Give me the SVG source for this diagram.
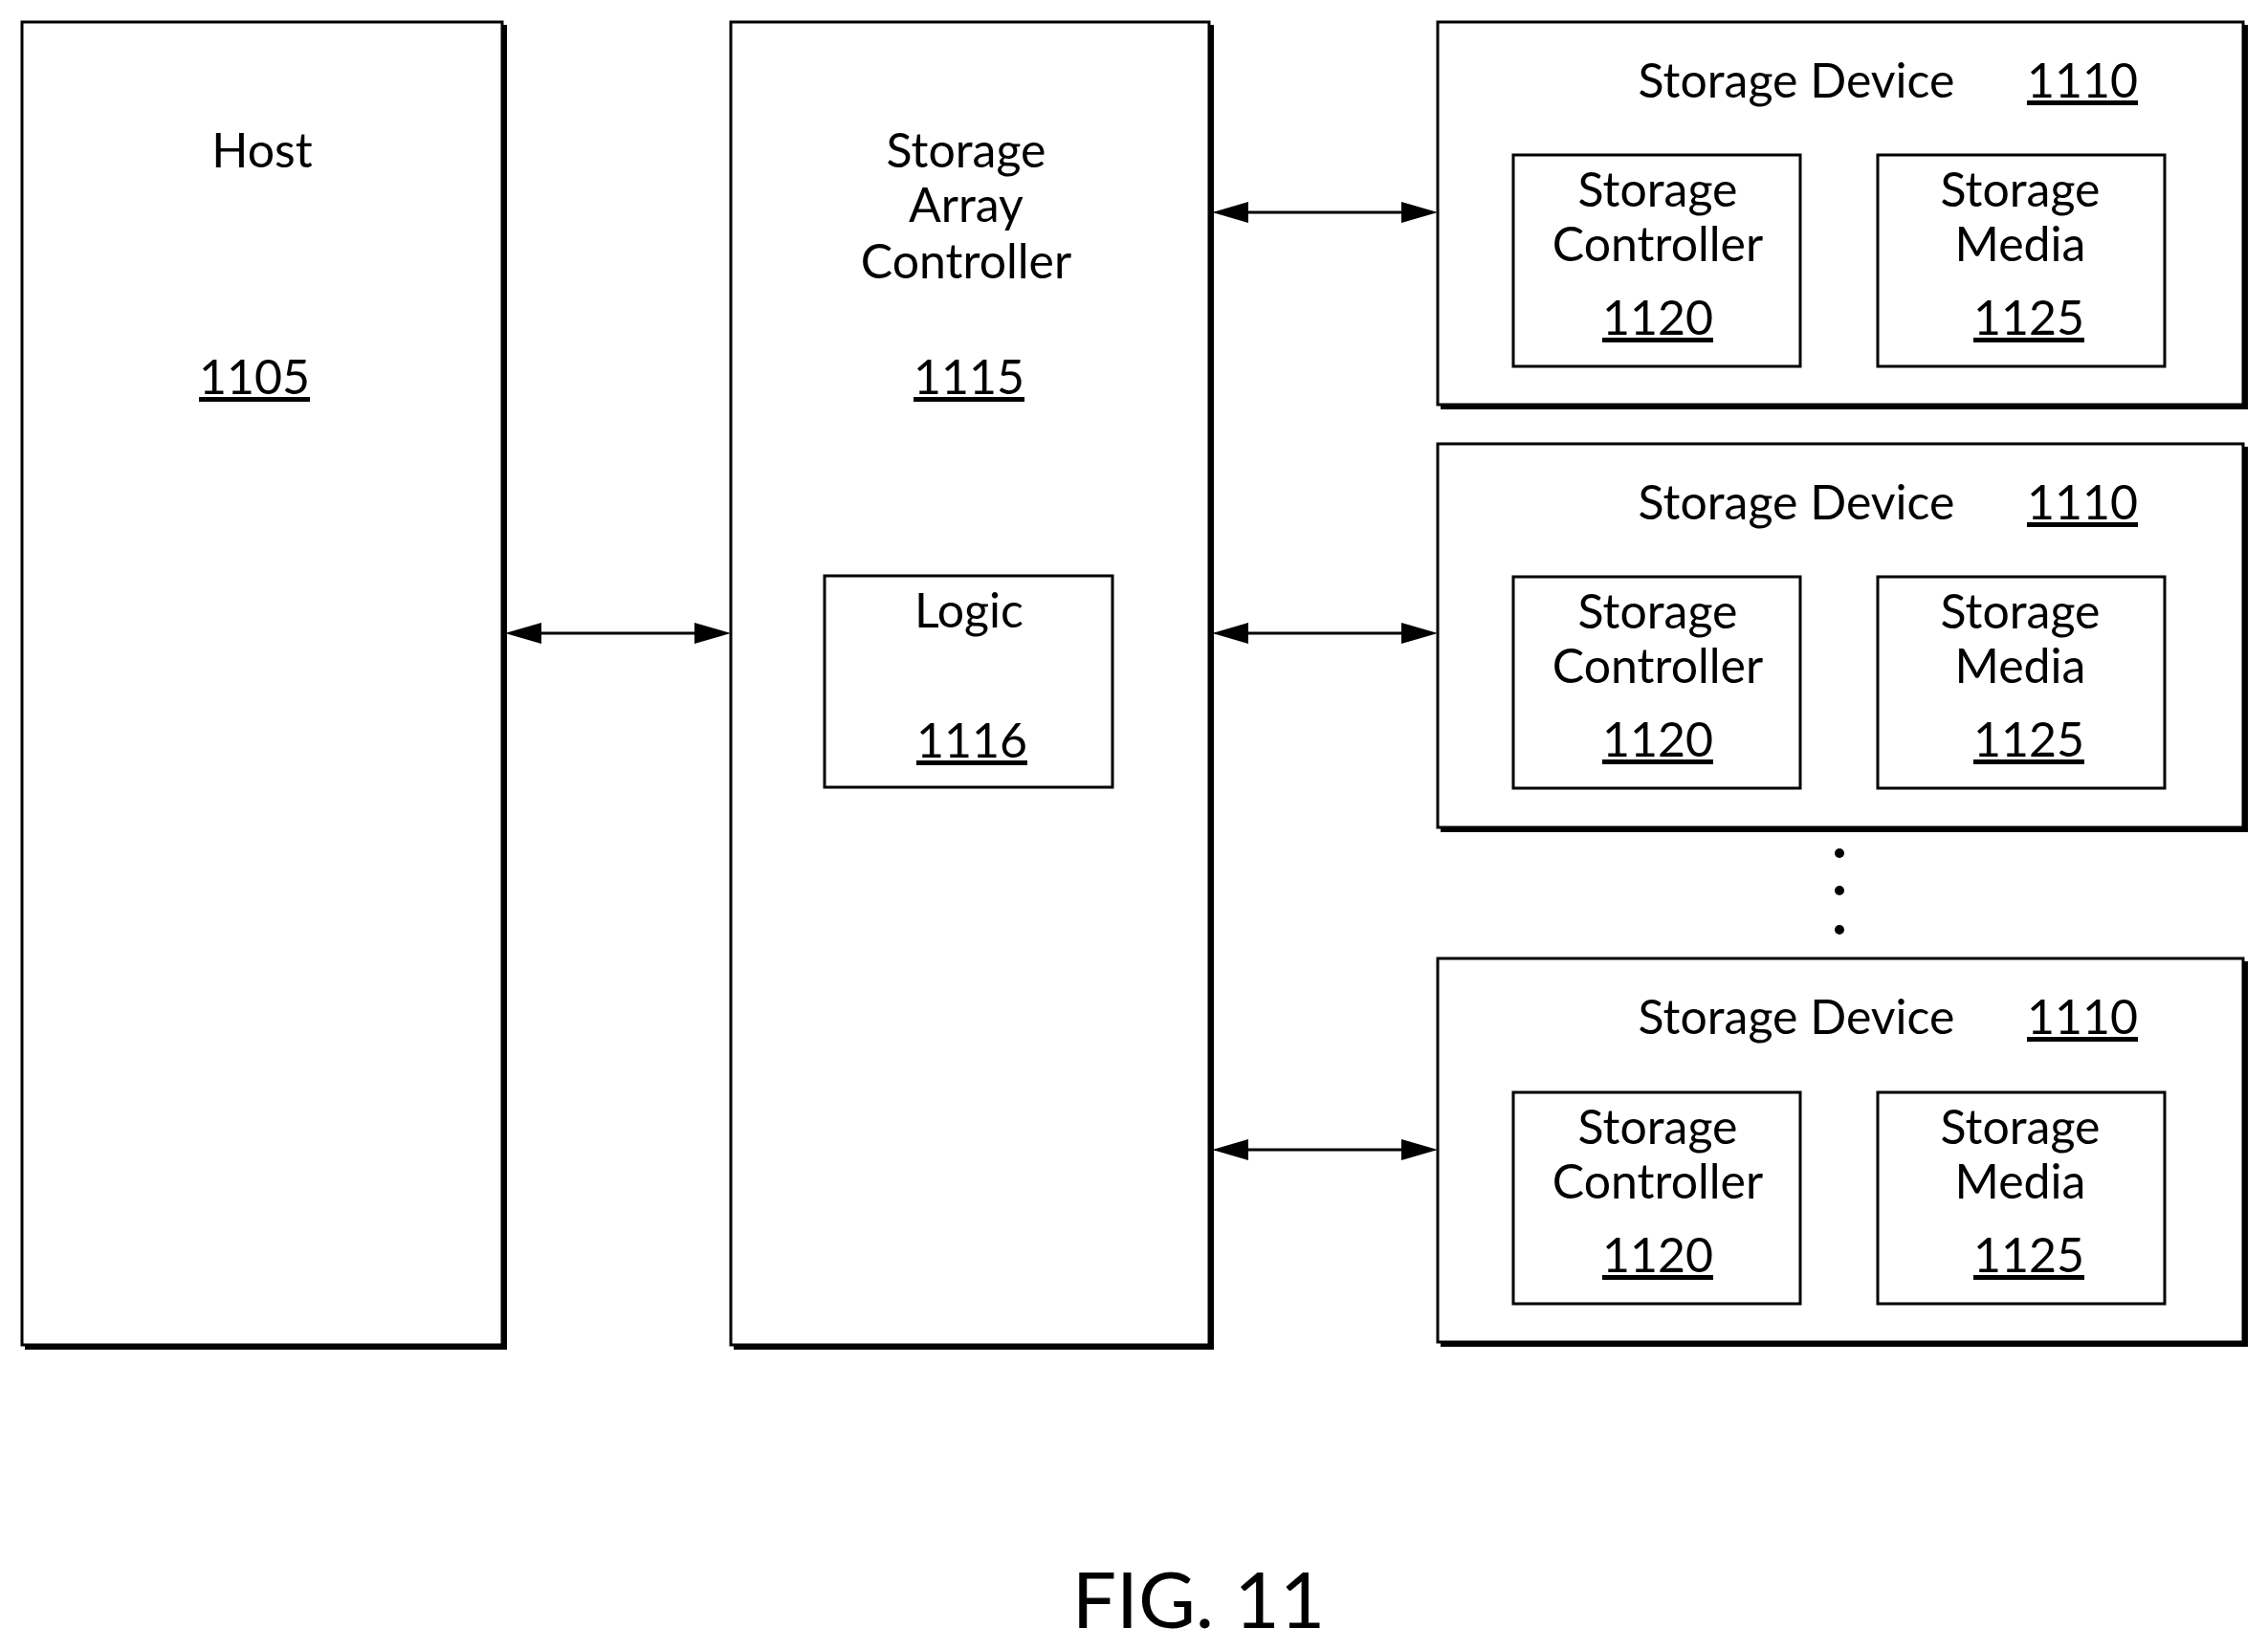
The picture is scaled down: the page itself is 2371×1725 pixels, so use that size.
<svg xmlns="http://www.w3.org/2000/svg" width="2371" height="1725" viewBox="0 0 2371 1725">
<style>
text{font-family:Lato,"Open Sans","Liberation Sans",sans-serif;font-size:50px;fill:#000;text-anchor:middle}
.u{text-decoration:underline}
.box{fill:#fff;stroke:#000;stroke-width:3}
.sh{fill:none;stroke:#000;stroke-width:4}
.in{fill:#fff;stroke:#000;stroke-width:3}
.c{stroke:#000;stroke-width:3;fill:none}
.a{fill:#000}
</style>
<rect width="2371" height="1725" fill="#fff"/>
<g id="host">
<polyline class="sh" points="528,26 528,1409 26,1409"/>
<rect class="box" x="23" y="23" width="502" height="1383"/>
<text x="274" y="175">Host</text>
<text class="u" x="266" y="412">1105</text>
</g>
<g id="sac">
<polyline class="sh" points="1267,26 1267,1409 767,1409"/>
<rect class="box" x="764" y="23" width="500" height="1383"/>
<text x="1010" y="175">Storage</text>
<text x="1010" y="232">Array</text>
<text x="1010" y="291">Controller</text>
<text class="u" x="1013" y="412">1115</text>
</g>
<g id="logic">
<rect class="in" x="862" y="602" width="301" height="221"/>
<text x="1013" y="656">Logic</text>
<text class="u" x="1016" y="792">1116</text>
</g>
<g id="dev1">
<polyline class="sh" points="2348,26 2348,426 1506,426"/>
<rect class="box" x="1503" y="23" width="842" height="400"/>
<text x="1878" y="102">Storage Device</text>
<text class="u" x="2177" y="102">1110</text>
<rect class="in" x="1582" y="162" width="300" height="221"/>
<text x="1733" y="216">Storage</text>
<text x="1733" y="273">Controller</text>
<text class="u" x="1733" y="350">1120</text>
<rect class="in" x="1963" y="162" width="300" height="221"/>
<text x="2112" y="216">Storage</text>
<text x="2112" y="273">Media</text>
<text class="u" x="2121" y="350">1125</text>
</g>
<g id="dev2">
<polyline class="sh" points="2348,467 2348,868 1506,868"/>
<rect class="box" x="1503" y="464" width="842" height="401"/>
<text x="1878" y="543">Storage Device</text>
<text class="u" x="2177" y="543">1110</text>
<rect class="in" x="1582" y="603" width="300" height="221"/>
<text x="1733" y="657">Storage</text>
<text x="1733" y="714">Controller</text>
<text class="u" x="1733" y="791">1120</text>
<rect class="in" x="1963" y="603" width="300" height="221"/>
<text x="2112" y="657">Storage</text>
<text x="2112" y="714">Media</text>
<text class="u" x="2121" y="791">1125</text>
</g>
<g id="dev3">
<polyline class="sh" points="2348,1005 2348,1406 1506,1406"/>
<rect class="box" x="1503" y="1002" width="842" height="401"/>
<text x="1878" y="1081">Storage Device</text>
<text class="u" x="2177" y="1081">1110</text>
<rect class="in" x="1582" y="1142" width="300" height="221"/>
<text x="1733" y="1196">Storage</text>
<text x="1733" y="1253">Controller</text>
<text class="u" x="1733" y="1330">1120</text>
<rect class="in" x="1963" y="1142" width="300" height="221"/>
<text x="2112" y="1196">Storage</text>
<text x="2112" y="1253">Media</text>
<text class="u" x="2121" y="1330">1125</text>
</g>
<g id="dots" fill="#000">
<circle cx="1923" cy="892" r="5"/>
<circle cx="1923" cy="931" r="5"/>
<circle cx="1923" cy="972" r="5"/>
</g>
<g id="connectors">
<line class="c" x1="560" y1="662" x2="732" y2="662"/>
<polygon class="a" points="528,662 566,651 566,673"/>
<polygon class="a" points="764,662 726,651 726,673"/>
<line class="c" x1="1300" y1="222" x2="1470" y2="222"/>
<polygon class="a" points="1267,222 1305,211 1305,233"/>
<polygon class="a" points="1503,222 1465,211 1465,233"/>
<line class="c" x1="1300" y1="662" x2="1470" y2="662"/>
<polygon class="a" points="1267,662 1305,651 1305,673"/>
<polygon class="a" points="1503,662 1465,651 1465,673"/>
<line class="c" x1="1300" y1="1202" x2="1470" y2="1202"/>
<polygon class="a" points="1267,1202 1305,1191 1305,1213"/>
<polygon class="a" points="1503,1202 1465,1191 1465,1213"/>
</g>
<text x="1253" y="1702" style="font-size:82px">FIG. 11</text>
</svg>
